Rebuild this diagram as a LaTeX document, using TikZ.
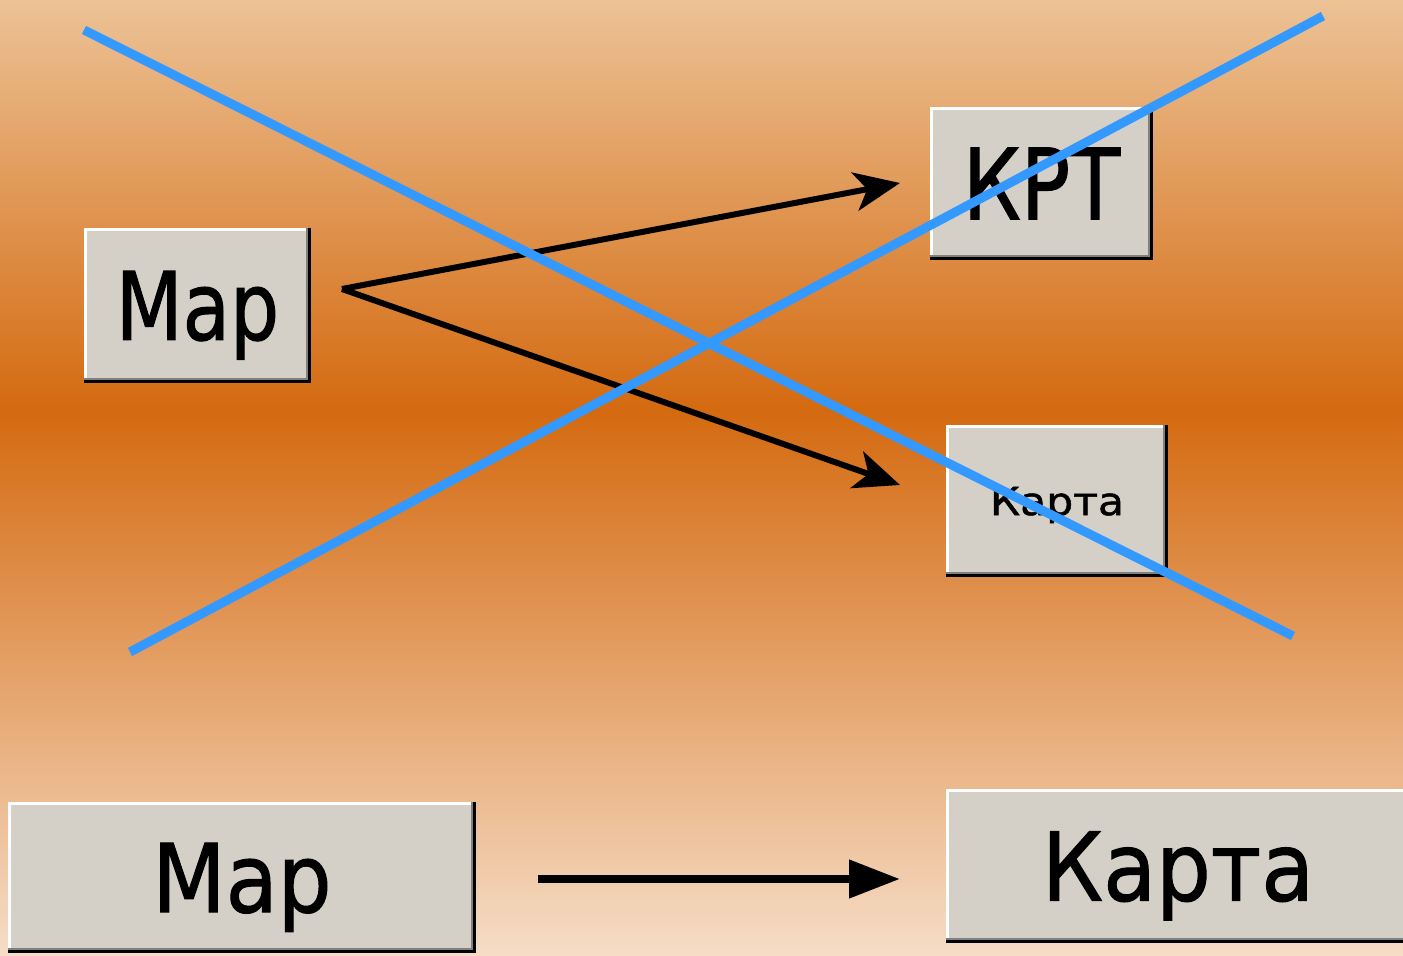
\documentclass[tikz,border=0pt]{standalone}
\usepackage{fontspec}
\setmainfont{DejaVu Sans}
\newfontfamily\btnfont[FakeBold=1.2]{DejaVu Sans}
\newcommand\btntext[2]{\scalebox{#1}[1]{#2}}
\usetikzlibrary{arrows.meta}
\definecolor{bgtop}{RGB}{236,194,150}
\definecolor{bgmid}{RGB}{212,106,16}
\definecolor{bgbot}{RGB}{246,221,199}
\definecolor{btngray}{RGB}{212,208,200}
\definecolor{btndark}{RGB}{128,128,128}
\definecolor{crossblue}{RGB}{51,153,255}
\begin{document}
\begin{tikzpicture}[x=0.02cm,y=-0.02cm,
  btn/.style={fill=btngray, inner sep=0pt, outer sep=0pt, text depth=0pt,
    path picture={
      \draw[white,line width=3.4pt] (path picture bounding box.south west) -- (path picture bounding box.north west) -- (path picture bounding box.north east);
      \draw[btndark,line width=6pt] (path picture bounding box.south west) -- (path picture bounding box.south east) -- (path picture bounding box.north east);
      \draw[black,line width=3.6pt] (path picture bounding box.south west) -- (path picture bounding box.south east) -- (path picture bounding box.north east);
    }},
  thinarrow/.style={line width=3.4pt, -{Stealth[length=26pt,width=22pt,inset=7pt]}},
  thickarrow/.style={line width=4.5pt, -{Triangle[length=29pt,width=21pt]}},
  cross/.style={crossblue, line width=5.2pt},
]
\useasboundingbox (0,0) rectangle (1403,956);
\clip (0,0) rectangle (1403,956);
\shade[top color=bgtop, bottom color=bgmid] (0,0) rectangle (1403,410);
\shade[top color=bgmid, bottom color=bgbot] (0,410) rectangle (1403,956);

% buttons
\node[btn, minimum width=4.54cm, minimum height=3.10cm, text height=39.1pt,
  font=\btnfont\fontsize{53.7}{60}\selectfont] (map) at (197.5,305.5) {\btntext{0.82}{Map}};
\node[btn, minimum width=4.46cm, minimum height=3.06cm, text height=40.8pt,
  font=\btnfont\fontsize{56}{62}\selectfont] (krt) at (1041.5,183.5) {\btntext{0.83}{КРТ}};
\node[btn, minimum width=4.44cm, minimum height=3.04cm, text height=16pt,
  font=\btnfont\fontsize{22}{26}\selectfont] (karta) at (1057,501) {\btntext{1.1}{Карта}};
\node[btn, minimum width=9.36cm, minimum height=3.02cm, text height=39.4pt,
  font=\btnfont\fontsize{54}{60}\selectfont] (map2) at (242,877.5) {\btntext{0.895}{Map}};
\node[btn, minimum width=9.28cm, minimum height=3.08cm, text height=39.4pt,
  font=\btnfont\fontsize{54}{60}\selectfont] (karta2) at (1178,866) {\btntext{0.91}{Карта}};

% connector end points
\coordinate (src) at (342,289);
\coordinate (krtin) at (900,183);
\coordinate (kartain) at (900,485);
\coordinate (src2) at (538,879);
\coordinate (karta2in) at (900,879);

\draw[thinarrow] (src) -- (krtin);
\draw[thinarrow] (src) -- (kartain);
\draw[thickarrow] (src2) -- (karta2in);

% crossing-out lines
\draw[cross] (84,30) -- (1293,636);
\draw[cross] (130,652) -- (1323,16);
\end{tikzpicture}
\end{document}
